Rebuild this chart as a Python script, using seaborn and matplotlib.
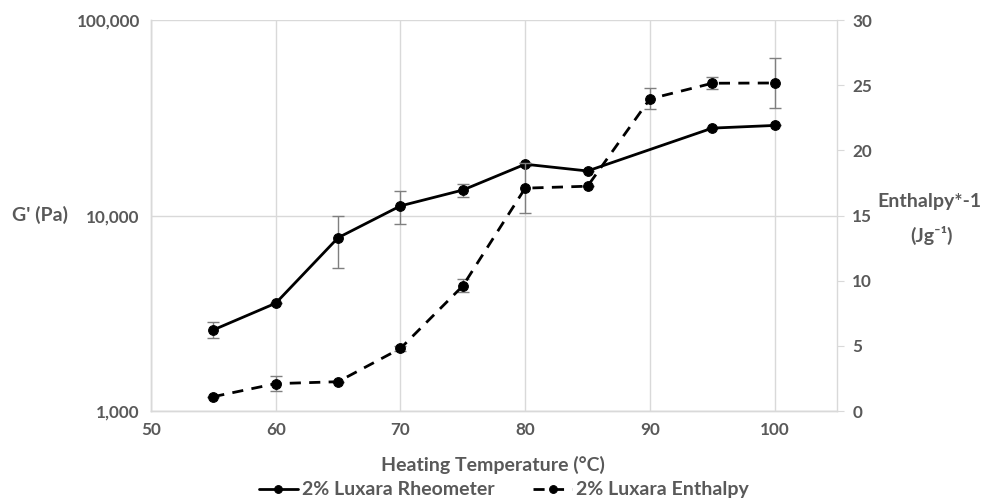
import matplotlib
matplotlib.use("Agg")
import matplotlib.pyplot as plt
import matplotlib.ticker as mticker
import pandas as pd
import seaborn as sns

# values
rheo_temp = [55, 60, 65, 70, 75, 80, 85, 95, 100]
rheo_g = [2600, 3560, 7700, 11200, 13500, 18300, 16900, 28000, 28900]
rheo_err = [250, 0, 2300, 2100, 1000, 300, 0, 0, 0]

enth_temp = [55, 60, 65, 70, 75, 80, 85, 90, 95, 100]
enth_val = [1.1, 2.1, 2.25, 4.8, 9.6, 17.1, 17.25, 23.95, 25.15, 25.17]
enth_err = [0, 0.55, 0, 0.2, 0.5, 1.9, 0, 0.8, 0.45, 1.9]

x_ticks = [50, 60, 70, 80, 90, 100]
left_ticks = [1000, 10000, 100000]
right_ticks = [0, 5, 10, 15, 20, 25, 30]

TXT = "#595959"
GRID = "#d9d9d9"

sns.set_style("white")
plt.rcParams["font.family"] = ["Lato", "DejaVu Sans"]

rheo = pd.DataFrame({"temp": rheo_temp, "g": rheo_g, "err": rheo_err})
enth = pd.DataFrame({"temp": enth_temp, "h": enth_val, "err": enth_err})

fig = plt.figure(figsize=(9.88, 5.01), dpi=100)
ax = fig.add_axes([0.1528, 0.1796, 0.6944, 0.7804])
ax2 = ax.twinx()

# error bars
ax.errorbar(rheo["temp"], rheo["g"], yerr=rheo["err"], fmt="none",
            ecolor="#7f7f7f", elinewidth=1, capsize=4, capthick=1, zorder=2)
ax2.errorbar(enth["temp"], enth["h"], yerr=enth["err"], fmt="none",
             ecolor="#7f7f7f", elinewidth=1, capsize=4, capthick=1, zorder=2)

sns.lineplot(data=rheo, x="temp", y="g", ax=ax, color="black", lw=2,
             marker="o", markersize=7, markeredgecolor="black",
             estimator=None, label="2% Luxara Rheometer", legend=False, zorder=3)
sns.lineplot(data=enth, x="temp", y="h", ax=ax2, color="black", lw=2,
             marker="o", markersize=7, markeredgecolor="black",
             linestyle=(0, (4, 3)), estimator=None,
             label="2% Luxara Enthalpy", legend=False, zorder=3)

ax.set_yscale("log")
ax.set_ylim(1000, 100000)
ax.set_xlim(50, 105)
ax.set_xticks(x_ticks)
ax.set_yticks(left_ticks)
ax.yaxis.set_major_formatter(mticker.FuncFormatter(lambda v, p: f"{v:,.0f}"))
ax.yaxis.set_minor_locator(mticker.NullLocator())
ax.grid(True, which="major", color=GRID, lw=1)
ax.set_axisbelow(True)
ax.tick_params(axis="both", length=0, labelsize=12.3, labelcolor=TXT, pad=8)
for lab in ax.get_xticklabels() + ax.get_yticklabels():
    lab.set_fontweight("bold")

ax2.set_ylim(0, 30)
ax2.set_yticks(right_ticks)
ax2.tick_params(axis="y", length=5, color=GRID, labelsize=12.3,
                labelcolor=TXT, pad=6)
for lab in ax2.get_yticklabels():
    lab.set_fontweight("bold")

for a in (ax, ax2):
    a.set_xlabel("")
    a.set_ylabel("")
    for side in ("left", "bottom", "right"):
        a.spines[side].set_color(GRID)
        a.spines[side].set_linewidth(1)
    a.spines["top"].set_visible(False)
ax.spines["right"].set_visible(False)

fig.text(0.040, 0.571, "G' (Pa)", fontsize=14, fontweight="bold", color=TXT,
         ha="center", va="center")
fig.text(0.941, 0.597, "Enthalpy*-1", fontsize=14, fontweight="bold",
         color=TXT, ha="center", va="center")
fig.text(0.943, 0.530, "(Jg⁻¹)", fontsize=14, fontweight="bold",
         color=TXT, ha="center", va="center")
fig.text(0.4985, 0.072, "Heating Temperature (°C)", fontsize=14,
         fontweight="bold", color=TXT, ha="center", va="center")

handles = ax.get_lines()[-1:] + ax2.get_lines()[-1:]
leg = fig.legend(handles=handles,
                 labels=["2% Luxara Rheometer", "2% Luxara Enthalpy"],
                 loc="center", bbox_to_anchor=(0.51, 0.022), ncol=2,
                 frameon=False, fontsize=14, handlelength=2.0,
                 columnspacing=2.0, handletextpad=0.2, markerscale=0.8)
for t in leg.get_texts():
    t.set_color(TXT)
    t.set_fontweight("bold")

fig.savefig("out.png", dpi=100)
